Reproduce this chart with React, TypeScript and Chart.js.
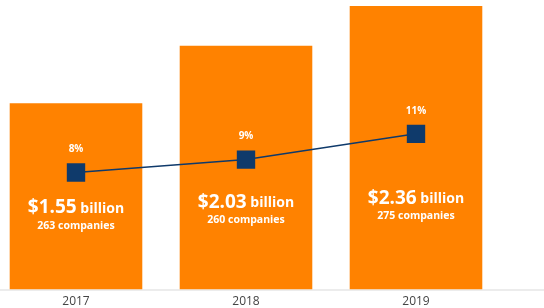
import React, { useEffect, useRef } from "react";
import { Chart, registerables } from "chart.js";

Chart.register(...registerables);

const years = ["2017", "2018", "2019"];
const fundingBillions = [1.55, 2.03, 2.36];
const companies = [263, 260, 275];
const sharePct = [8, 9, 11];

const ORANGE = "#FF8200";
const NAVY = "#0F3A6B";
const FONT = "'Open Sans', 'DejaVu Sans', sans-serif";

const labelsPlugin = {
  id: "barLabels",
  beforeDraw(chart: any) {
    const { ctx, chartArea } = chart;
    ctx.save();
    ctx.strokeStyle = "#e6e6e6";
    ctx.lineWidth = 1.5;
    ctx.beginPath();
    ctx.moveTo(0, chartArea.bottom + 0.5);
    ctx.lineTo(chart.width, chartArea.bottom + 0.5);
    ctx.stroke();
    ctx.restore();
  },
  afterDatasetsDraw(chart: any) {
    const { ctx, chartArea } = chart;
    const barMeta = chart.getDatasetMeta(0);
    const lineMeta = chart.getDatasetMeta(1);
    ctx.save();
    ctx.fillStyle = "#ffffff";
    barMeta.data.forEach((bar: any, i: number) => {
      const h = chartArea.bottom - bar.y;
      const yMoney = chartArea.bottom - 63 - 0.1 * h;
      const big = "$" + fundingBillions[i].toFixed(2);
      const small = " billion";
      ctx.font = `bold 19px ${FONT}`;
      const wBig = ctx.measureText(big).width;
      ctx.font = `bold 14px ${FONT}`;
      const wSmall = ctx.measureText(small).width;
      const x0 = bar.x - (wBig + wSmall) / 2;
      ctx.textBaseline = "middle";
      ctx.textAlign = "left";
      ctx.font = `bold 19px ${FONT}`;
      ctx.fillText(big, x0, yMoney);
      ctx.font = `bold 14px ${FONT}`;
      ctx.fillText(small, x0 + wBig, yMoney + 1);
      ctx.textAlign = "center";
      ctx.font = `bold 10.5px ${FONT}`;
      ctx.fillText(companies[i] + " companies", bar.x, yMoney + 18);
    });
    lineMeta.data.forEach((pt: any, i: number) => {
      ctx.textAlign = "center";
      ctx.textBaseline = "middle";
      ctx.font = `bold 10px ${FONT}`;
      ctx.fillText(sharePct[i] + "%", pt.x, pt.y - 23);
    });
    ctx.restore();
  },
};

export default function App() {
  const ref = useRef<HTMLCanvasElement | null>(null);
  useEffect(() => {
    if (!ref.current) return;
    const chart = new Chart(ref.current, {
      type: "bar",
      data: {
        labels: years,
        datasets: [
          {
            type: "bar",
            data: fundingBillions,
            backgroundColor: ORANGE,
            borderWidth: 0,
            categoryPercentage: 1,
            barPercentage: 0.78,
            yAxisID: "y",
            order: 2,
          },
          {
            type: "line",
            data: sharePct,
            borderColor: NAVY,
            borderWidth: 1.5,
            pointStyle: "rect",
            pointRadius: 13,
            pointBackgroundColor: NAVY,
            pointBorderWidth: 0,
            yAxisID: "y2",
            order: 1,
          } as any,
        ],
      },
      options: {
        animation: false,
        responsive: false,
        maintainAspectRatio: false,
        layout: { autoPadding: false, padding: { left: 0, right: 43, top: 0, bottom: -6 } },
        plugins: { legend: { display: false }, tooltip: { enabled: false } },
        scales: {
          x: {
            grid: { display: false, drawTicks: false },
            border: { display: false },
            ticks: { color: "#444", font: { family: FONT, size: 12 }, padding: 5 },
          },
          y: { display: false, min: 0, max: 2.41 },
          y2: { display: false, min: -1.1, max: 21.4 },
        },
      },
      plugins: [labelsPlugin],
    });
    return () => chart.destroy();
  }, []);
  return (
    <div style={{ position: "absolute", left: -9, top: 0, width: 553, height: 308 }}>
      <canvas ref={ref} width={553} height={308} style={{ width: 553, height: 308 }} />
    </div>
  );
}
